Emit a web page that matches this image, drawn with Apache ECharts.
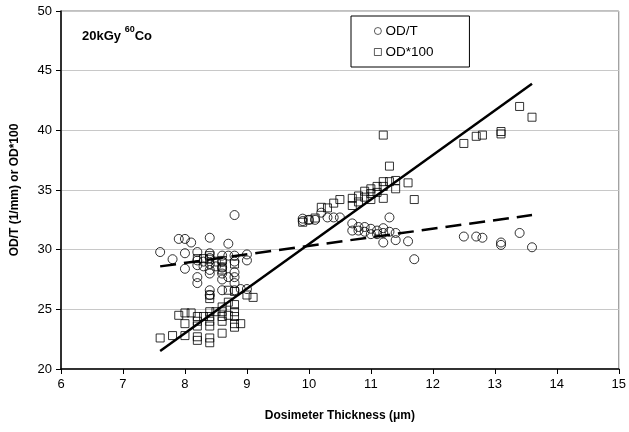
<!DOCTYPE html>
<html>
<head>
<meta charset="utf-8">
<script src="https://cdn.jsdelivr.net/npm/echarts@6/dist/echarts.min.js"></script>
<style>
html,body{margin:0;padding:0;background:#fff;}
#c{width:629px;height:432px;}
</style>
</head>
<body>
<div id="c"></div>
<script>
// OD/T (circles)
const odtX = [7.6,7.8,7.9,8.0,8.1,8.0,8.0,8.2,8.2,8.2,8.2,8.2,8.3,8.3,8.4,8.4,8.4,8.4,8.4,8.4,8.4,8.4,8.5,8.5,8.6,8.6,8.6,8.6,8.6,8.6,8.7,8.7,8.7,8.8,8.8,8.8,8.8,8.8,8.8,8.8,8.9,9.0,9.0,9.0,
  9.9,9.9,10.0,10.1,10.2,10.3,10.4,10.5,
  10.7,10.7,10.8,10.8,10.9,10.9,11.0,11.0,11.1,11.1,11.2,11.2,11.2,11.3,11.3,11.4,11.4,11.6,11.7,
  12.5,12.7,12.8,13.1,13.1,13.4,13.6];
const odtY = [29.8,29.2,30.9,30.9,30.6,29.7,28.4,29.8,29.1,28.7,27.7,27.2,29.0,28.6,31.0,29.7,29.3,28.8,28.3,28.0,26.6,26.2,29.0,28.6,29.5,29.0,28.5,28.0,27.5,26.6,30.5,29.5,27.7,32.9,29.5,29.0,28.1,27.7,27.2,26.6,26.7,29.6,29.1,26.7,
  32.6,32.4,32.5,32.5,33.1,32.7,32.7,32.7,
  32.2,31.6,31.9,31.6,31.9,31.5,31.75,31.3,31.6,31.3,31.8,31.4,30.6,31.5,32.7,31.4,30.8,30.7,29.2,
  31.1,31.1,31.0,30.6,30.4,31.4,30.2];
// OD*100 (squares)
const od100X = [7.6,7.8,8.0,7.9,8.0,8.1,8.0,8.2,8.2,8.2,8.2,8.2,8.3,8.4,8.4,8.4,8.4,8.4,8.4,8.5,8.6,8.6,8.6,8.6,8.6,8.7,8.7,8.8,8.8,8.8,8.8,8.8,8.9,9.0,8.7,8.4,8.8,9.1,8.4,
  8.2,8.3,8.4,8.4,8.6,8.8,8.6,8.6,
  9.9,10.0,10.1,10.2,10.3,10.4,10.5,10.7,10.7,10.8,10.8,10.9,10.9,11.0,11.0,11.0,11.1,11.1,11.2,11.2,11.2,11.3,11.4,11.4,11.6,11.7,11.3,11.2,
  12.5,12.7,12.8,13.1,13.1,13.4,13.6];
const od100Y = [22.6,22.8,22.8,24.5,24.7,24.7,23.8,24.4,24.0,23.6,22.7,22.4,24.4,24.8,24.4,24.0,23.6,22.6,22.2,24.8,25.2,24.8,24.4,24.0,23.0,25.6,24.5,25.4,24.8,24.4,23.8,23.5,23.8,26.2,26.6,26.2,26.5,26.0,25.9,
  29.25,29.25,29.5,29.2,29.1,28.8,28.55,28.3,
  32.3,32.5,32.65,33.55,33.5,33.9,34.2,34.3,33.7,34.5,34.0,34.9,34.4,35.1,34.7,34.2,35.3,34.8,35.7,35.3,34.3,35.7,35.8,35.1,35.6,34.2,37.0,39.6,
  38.9,39.5,39.6,39.9,39.7,42.0,41.1];
// Trend lines (end points)
const trendX = [7.6, 13.6];
const trendOdtY = [28.6, 32.9];
const trendOd100Y = [21.5, 43.9];
// Axis ticks
const xTicks = [6,7,8,9,10,11,12,13,14,15];
const yTicks = [20,25,30,35,40,45,50];

const zip = (a,b) => a.map((v,i)=>[v,b[i]]);
const F = 'Arial, "Liberation Sans", sans-serif';

const chart = echarts.init(document.getElementById('c'), null, {renderer:'canvas'});
chart.setOption({
  animation:false,
  backgroundColor:'#fff',
  grid:{left:61,right:9,top:11,bottom:63,show:true,borderColor:'#808080',borderWidth:1,backgroundColor:'transparent'},
  title:{
    text:'{a|20kGy }{s|60}{a|Co}',
    left:77, top:20,
    textStyle:{rich:{
      a:{fontFamily:F,fontSize:13,fontWeight:'bold',color:'#000',verticalAlign:'bottom',lineHeight:18},
      s:{fontFamily:F,fontSize:9,fontWeight:'bold',color:'#000',verticalAlign:'top',lineHeight:18,padding:[0,0,7,0]}
    }}
  },
  legend:{
    orient:'vertical', left:351, top:16,
    backgroundColor:'#fff', borderColor:'#000', borderWidth:1,
    padding:[8,36,8,23], itemGap:7, itemWidth:7, itemHeight:7,
    itemStyle:{color:'rgba(255,255,255,0)',borderColor:'#000',borderWidth:0.8},
    textStyle:{fontFamily:F,fontSize:13.5,color:'#000',padding:[0,0,0,-1]},
    data:[{name:'OD/T',icon:'circle'},{name:'OD*100',icon:'rect'}]
  },
  xAxis:{
    type:'value', min:xTicks[0], max:xTicks[xTicks.length-1], interval:1,
    name:'Dosimeter Thickness (μm)', nameLocation:'middle', nameGap:41,
    nameTextStyle:{fontFamily:F,fontSize:12,fontWeight:'bold',color:'#000'},
    axisLine:{onZero:false,lineStyle:{color:'#000',width:1.5}},
    axisTick:{show:true,inside:false,length:5,lineStyle:{color:'#000',width:1}},
    axisLabel:{fontFamily:F,fontSize:13,color:'#000',margin:9},
    splitLine:{show:false}
  },
  yAxis:{
    type:'value', min:yTicks[0], max:yTicks[yTicks.length-1], interval:5,
    name:'OD/T (1/mm) or OD*100', nameLocation:'middle', nameGap:40, nameRotate:90,
    nameTextStyle:{fontFamily:F,fontSize:12,fontWeight:'bold',color:'#000'},
    axisLine:{onZero:false,lineStyle:{color:'#000',width:1.5}},
    axisTick:{show:true,inside:false,length:5,lineStyle:{color:'#000',width:1}},
    axisLabel:{fontFamily:F,fontSize:13,color:'#000',margin:9},
    splitLine:{show:true,lineStyle:{color:'#c8c8c8',width:1}}
  },
  series:[
    {name:'OD/T',type:'scatter',symbol:'circle',symbolSize:9,data:zip(odtX,odtY),
     itemStyle:{color:'rgba(255,255,255,0)',borderColor:'#000',borderWidth:1},z:3},
    {name:'OD*100',type:'scatter',symbol:'rect',symbolSize:8,data:zip(od100X,od100Y),
     itemStyle:{color:'rgba(255,255,255,0)',borderColor:'#000',borderWidth:1},z:3},
    {name:'trendOdt',type:'line',data:zip(trendX,trendOdtY),showSymbol:false,symbol:'none',
     lineStyle:{color:'#000',width:2.5,type:[16,8]},z:4,silent:true},
    {name:'trendOd100',type:'line',data:zip(trendX,trendOd100Y),showSymbol:false,symbol:'none',
     lineStyle:{color:'#000',width:2.5},z:4,silent:true}
  ]
});
</script>
</body>
</html>
